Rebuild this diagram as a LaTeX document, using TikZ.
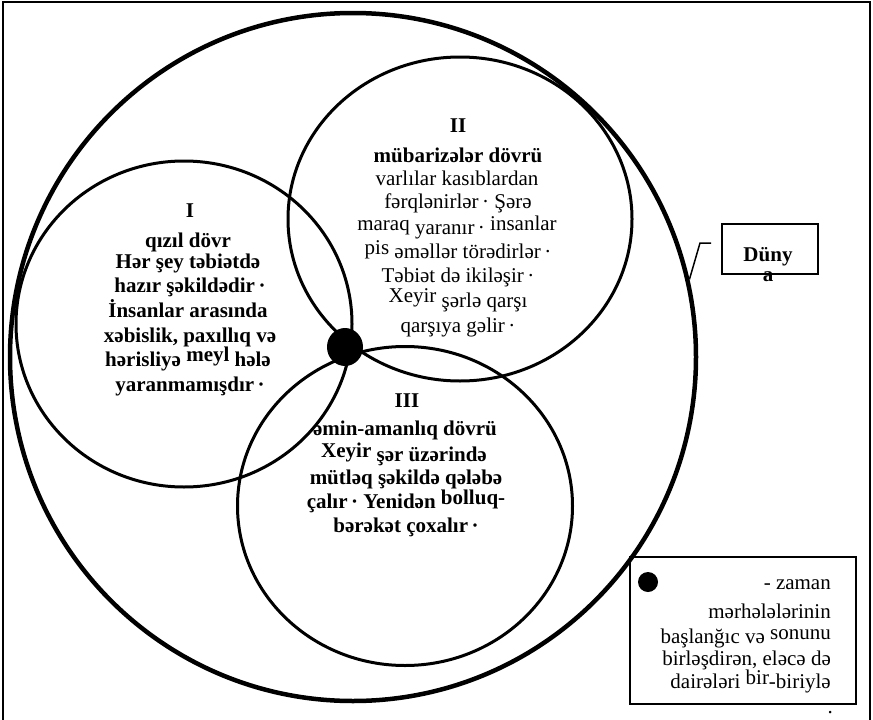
\documentclass[tikz,border=0pt]{standalone}
\usepackage{fontspec}
\setmainfont{Liberation Serif}
\usetikzlibrary{shapes.geometric}
\begin{document}
\begin{tikzpicture}[x=1pt,y=-1pt,
  ring/.style={draw, ellipse, line width=3pt, inner sep=0pt},
  outerring/.style={draw, ellipse, line width=4.5pt, inner sep=0pt},
  hubdot/.style={circle, fill=black, inner sep=0pt},
  txt/.style={inner sep=0pt, anchor=base, font=\fontsize{21}{24}\selectfont},
  btxt/.style={txt, font=\fontsize{21}{24}\selectfont\bfseries},
  rtxt/.style={txt, anchor=base east},
  boxst/.style={draw, line width=1.3pt, inner sep=0pt}]
\useasboundingbox (0,0) rectangle (873,720);
\draw[line width=2pt] (3,724) -- (3,2) -- (870,2) -- (870,724);

% circles
\node[outerring, minimum width=686pt, minimum height=688pt] (world) at (353,357) {};
\node[ring, minimum width=336pt, minimum height=326pt] (c1) at (184,324) {};
\node[ring, minimum width=344pt, minimum height=324pt] (c2) at (460,219) {};
\node[ring, minimum width=335pt, minimum height=319pt] (c3) at (405,506) {};
\node[hubdot, minimum width=36pt, minimum height=38pt, ellipse] (hub) at (345,347) {};

% circle I
\node[btxt] (t1a) at (190,217) {I};
\node[btxt] (t1b) at (188,247) {qızıl dövr};
\node[btxt] (t1c) at (188,268) {Hər şey təbiətdə};
\node[btxt] (t1d) at (190,292) {hazır şəkildədir\,·};
\node[btxt] (t1e) at (188,317) {İnsanlar arasında};
\node[btxt] (t1f) at (190,342) {xəbislik, paxıllıq və};
\node[btxt] (t1g) at (188,366) {hərisliyə \raisebox{5pt}{meyl} hələ};
\node[btxt] (t1h) at (190,391) {yaranmamışdır\,·};

% circle II
\node[btxt] (t2a) at (458,132) {II};
\node[btxt] (t2b) at (458,162) {mübarizələr dövrü};
\node[txt] (t2c) at (457,185) {varlılar kasıblardan};
\node[txt] (t2d) at (458,208) {fərqlənirlər\,· Şərə};
\node[txt] (t2e) at (457,230) {maraq \raisebox{-4pt}{yaranır\,·} insanlar};
\node[txt] (t2f) at (458,258) {\raisebox{4pt}{pis} əməllər törədirlər\,·};
\node[txt] (t2g) at (458,282) {Təbiət də ikiləşir\,·};
\node[txt] (t2h) at (458,307) {\raisebox{5pt}{Xeyir} şərlə qarşı};
\node[txt] (t2i) at (458,332) {qarşıya gəlir\,·};

% circle III
\node[btxt] (t3a) at (407,407) {III};
\node[btxt] (t3b) at (405,435) {əmin-amanlıq dövrü};
\node[btxt] (t3c) at (404,461) {\raisebox{4pt}{Xeyir} şər üzərində};
\node[btxt] (t3d) at (406,484) {mütləq şəkildə qələbə};
\node[btxt] (t3e) at (406,508) {çalır\,· Yenidən \raisebox{4pt}{bolluq-}};
\node[btxt] (t3f) at (406,532) {bərəkət çoxalır\,·};

% Dunya
\node[boxst, minimum width=96pt, minimum height=50pt] (dbox) at (770,249) {};
\node[btxt] (dt1) at (768,261) {Düny};
\node[btxt] (dt2) at (768,281) {a};
\coordinate (dtip) at (711,243);
\draw[line width=1.5pt] (world.13) -- (700,243) -- (dtip);

% legend
\node[boxst, minimum width=226pt, minimum height=147pt] (legend) at (743,630.5) {};
\node[hubdot, minimum size=20pt] (ldot) at (648,582) {};
\node[rtxt] (l1) at (831,589) {- zaman};
\node[rtxt] (l2) at (831,618) {mərhələlərinin};
\node[rtxt] (l3) at (831,643) {başlanğıc və \raisebox{4pt}{sonunu}};
\node[rtxt] (l4) at (831,665) {birləşdirən, eləcə də};
\node[rtxt] (l5) at (831,688) {dairələri \raisebox{4pt}{bir}-biriylə};
\node[rtxt] (l6) at (833,713) {.};
\end{tikzpicture}
\end{document}
